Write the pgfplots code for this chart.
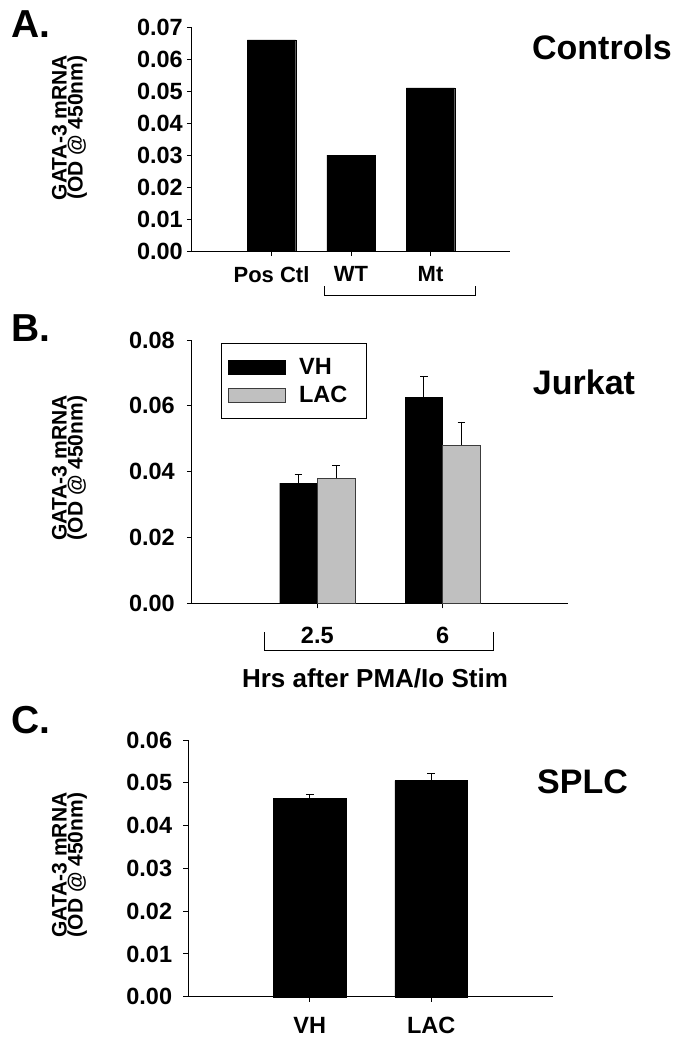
\documentclass[border=0pt]{standalone}
\usepackage{pgfplots}
\pgfplotsset{compat=1.18}
\usepackage{fontspec}
\setmainfont{Liberation Sans}
\definecolor{lacgray}{RGB}{192,192,192}
\definecolor{edgegray}{RGB}{60,60,60}
\pgfplotsset{
  panel/.style={
    scale only axis, anchor=south west,
    axis x line*=bottom, axis y line*=left,
    axis line style={line width=1pt, black, -},
    tick align=outside,
    major tick length=5pt,
    every tick/.style={black, line width=1pt},
    ymin=0,
    tick label style={font=\fontsize{23.5}{23.5}\selectfont\bfseries},
    scaled y ticks=false,
    /pgf/number format/assume math mode=true,
    yticklabel style={/pgf/number format/fixed, /pgf/number format/fixed zerofill, /pgf/number format/precision=2, inner sep=2pt},
    ylabel style={font=\fontsize{21}{16}\selectfont\bfseries, align=center, anchor=center},
    ylabel={GATA-3 mRNA\\(OD @ 450nm)},
    clip=false,
  },
  errstyle/.style={/pgfplots/error bars/y dir=plus, /pgfplots/error bars/y explicit,
    /pgfplots/error bars/error bar style={black, line width=0.8pt},
    /pgfplots/error bars/error mark options={black, mark size=3.8pt, line width=0.8pt, rotate=90}},
}
\begin{document}
\begin{tikzpicture}
\path[use as bounding box] (0pt,0pt) rectangle (684pt,-1050pt);

% ---------- Panel A ----------
\begin{axis}[panel, at={(192pt,-251pt)}, width=318pt, height=224pt,
  xmin=0, xmax=4, ymax=0.07,
  ytick={0,0.01,0.02,0.03,0.04,0.05,0.06,0.07},
  xtick={1,2,3}, xticklabels={Pos Ctl, WT, Mt},
  xticklabel style={yshift=-7pt, font=\fontsize{22}{22}\selectfont\bfseries},
  yticklabel style={xshift=-2pt},
  ylabel style={at={(axis description cs:-0.385,0.55)}}]
\addplot[ybar, bar width=0.61, fill=black, draw=black]
  coordinates {(1,0.066) (2,0.030) (3,0.051)};
\end{axis}
\draw[line width=1pt] (324pt,-286pt) -- (324pt,-295pt) -- (475pt,-295pt) -- (475pt,-286pt);
\node[font=\fontsize{39}{39}\selectfont\bfseries] at (31pt,-24pt) {A.};
\node[font=\fontsize{34}{34}\selectfont\bfseries] at (602pt,-47pt) {Controls};

% ---------- Panel B ----------
\begin{axis}[panel, at={(192pt,-603.3pt)}, width=376pt, height=263.3pt,
  xmin=0, xmax=3, ymax=0.08,
  ytick={0,0.02,0.04,0.06,0.08},
  xtick={1,2}, xticklabels={2.5, 6},
  xticklabel style={yshift=-15pt},
  yticklabel style={xshift=-10pt},
  ylabel style={at={(axis description cs:-0.326,0.514)}},
  legend style={at={(axis description cs:0.076,0.989)}, anchor=north west,
    draw=black, line width=1pt, font=\fontsize{23.5}{23.5}\selectfont\bfseries,
    inner xsep=7pt, inner ysep=13pt, row sep=6pt, nodes={inner sep=2pt}},
  legend cell align=left]
\addplot[ybar, bar width=0.3, fill=black, draw=black, errstyle,
  legend image code/.code={\draw[fill=black, draw=black] (0pt,-7pt) rectangle (57pt,7pt); \path (68pt,0pt);}]
  coordinates {(0.85,0.0365) +- (0,0.0027) (1.85,0.0626) +- (0,0.0063)};
\addlegendentry{\makebox[58pt][l]{VH}}
\addplot[ybar, bar width=0.3, fill=lacgray, draw=edgegray, line width=0.8pt, errstyle,
  legend image code/.code={\draw[fill=lacgray, draw=edgegray, line width=1pt] (0pt,-7pt) rectangle (57pt,7pt); \path (68pt,0pt);}]
  coordinates {(1.15,0.0380) +- (0,0.0038) (2.15,0.0481) +- (0,0.0070)};
\addlegendentry{\makebox[58pt][l]{LAC}}
\end{axis}
\draw[line width=1pt] (264pt,-632pt) -- (264pt,-650pt) -- (493pt,-650pt) -- (493pt,-632pt);
\node[font=\fontsize{26}{26}\selectfont\bfseries] at (375pt,-678pt) {Hrs after PMA/Io Stim};
\node[font=\fontsize{39}{39}\selectfont\bfseries] at (30.5pt,-328pt) {B.};
\node[font=\fontsize{34}{34}\selectfont\bfseries] at (584pt,-382pt) {Jurkat};

% ---------- Panel C ----------
\begin{axis}[panel, at={(188.3pt,-996.7pt)}, width=364.4pt, height=256.7pt,
  xmin=0, xmax=3, ymax=0.06,
  ytick={0,0.01,0.02,0.03,0.04,0.05,0.06},
  xtick={1,2}, xticklabels={VH, LAC},
  xticklabel style={yshift=-12pt},
  yticklabel style={xshift=-9pt},
  ylabel style={at={(axis description cs:-0.326,0.513)}}]
\addplot[ybar, bar width=0.6, fill=black, draw=black, errstyle]
  coordinates {(1,0.0464) +- (0,0.0008) (2,0.0505) +- (0,0.0016)};
\end{axis}
\node[font=\fontsize{39}{39}\selectfont\bfseries] at (30.5pt,-720pt) {C.};
\node[font=\fontsize{34}{34}\selectfont\bfseries] at (582.5pt,-782pt) {SPLC};
\end{tikzpicture}
\end{document}
